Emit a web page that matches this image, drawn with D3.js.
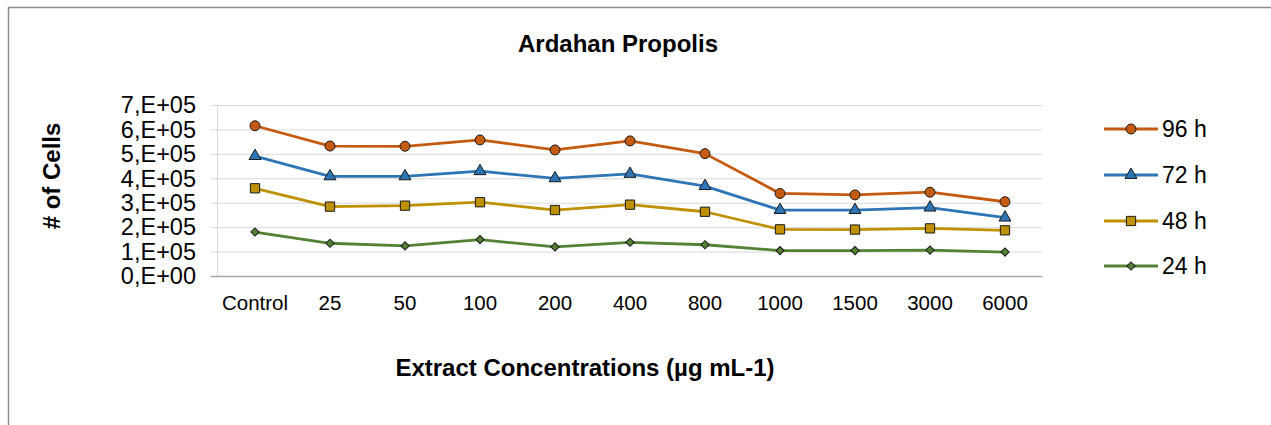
<!DOCTYPE html>
<html>
<head>
<meta charset="utf-8">
<script src="https://cdn.jsdelivr.net/npm/d3@7"></script>
<style>
	body { margin: 0; background: #fff; }
	svg { display: block; font-family: "Liberation Sans", Arial, sans-serif; }
</style>
</head>
<body>
<svg id="chart" width="1271" height="425"></svg>
<script>
// categories and values
const categories = ["Control", "25", "50", "100", "200", "400", "800", "1000", "1500", "3000", "6000"];
const yTicks = [0, 1e5, 2e5, 3e5, 4e5, 5e5, 6e5, 7e5];
const h96 = [615000, 532000, 531000, 557000, 516000, 553000, 501000, 338000, 332000, 343000, 304000];
const h72 = [491000, 408000, 408000, 429000, 400000, 418000, 368000, 270000, 270000, 280000, 239000];
const h48 = [359000, 284000, 288000, 302000, 270000, 292000, 263000, 191000, 190000, 195000, 187000];
const h24 = [180000, 134000, 123000, 149000, 119000, 138000, 128000, 104000, 104000, 106000, 98000];
const seriesNames = ["96 h", "72 h", "48 h", "24 h"];

const series = [
	{ name: seriesNames[0], values: h96, color: "#C55A11", symbol: d3.symbolCircle, size: 78, rot: 0 },
	{ name: seriesNames[1], values: h72, color: "#2E75B6", symbol: d3.symbolTriangle, size: 62, rot: 0 },
	{ name: seriesNames[2], values: h48, color: "#BF9000", symbol: d3.symbolSquare, size: 86, rot: 0 },
	{ name: seriesNames[3], values: h24, color: "#548235", symbol: d3.symbolSquare, size: 34, rot: 45 }
];

const svg = d3.select("#chart");
const margin = { left: 217.5, right: 1042.5, top: 105, bottom: 276 };

// outer frame (top and left edges visible)
svg.append("path")
	.attr("d", "M8.5,425 L8.5,7.5 L1271,7.5")
	.attr("fill", "none")
	.attr("stroke", "#8c8c8c")
	.attr("stroke-width", 1.5);

const x = d3.scaleBand()
	.domain(categories)
	.range([margin.left, margin.right]);

const y = d3.scaleLinear()
	.domain([0, 7e5])
	.range([margin.bottom, margin.top]);

// gridlines
svg.append("g")
	.selectAll("line")
	.data(yTicks.filter(d => d > 0))
	.join("line")
	.attr("x1", margin.left - 7)
	.attr("x2", margin.right)
	.attr("y1", d => y(d) + 0.5)
	.attr("y2", d => y(d) + 0.5)
	.attr("stroke", "#d9d9d9")
	.attr("stroke-width", 1);

// y axis line
svg.append("line")
	.attr("x1", margin.left).attr("x2", margin.left)
	.attr("y1", margin.top).attr("y2", margin.bottom)
	.attr("stroke", "#d9d9d9");

// x axis line
svg.append("line")
	.attr("x1", margin.left - 7).attr("x2", margin.right)
	.attr("y1", margin.bottom + 0.5).attr("y2", margin.bottom + 0.5)
	.attr("stroke", "#a6a6a6")
	.attr("stroke-width", 1.5);

// y tick labels
const fmt = d => {
	if (d === 0) return "0,E+00";
	const e = Math.floor(Math.log10(d));
	return Math.round(d / Math.pow(10, e)) + ",E+" + String(e).padStart(2, "0");
};
svg.append("g")
	.selectAll("text")
	.data(yTicks)
	.join("text")
	.attr("x", 196)
	.attr("y", d => y(d))
	.attr("dy", "0.35em")
	.attr("text-anchor", "end")
	.attr("font-size", 23.5)
	.attr("fill", "#000")
	.text(fmt);

// x tick labels
svg.append("g")
	.selectAll("text")
	.data(categories)
	.join("text")
	.attr("x", d => x(d) + x.bandwidth() / 2)
	.attr("y", 303)
	.attr("dy", "0.35em")
	.attr("text-anchor", "middle")
	.attr("font-size", 20.5)
	.attr("fill", "#000")
	.text(d => d);

// lines and markers
const line = d3.line()
	.x((d, i) => x(categories[i]) + x.bandwidth() / 2)
	.y(d => y(d));

series.forEach(s => {
	svg.append("path")
		.datum(s.values)
		.attr("d", line)
		.attr("fill", "none")
		.attr("stroke", s.color)
		.attr("stroke-width", 2.8)
		.attr("stroke-linejoin", "round");

	svg.append("g")
		.selectAll("path")
		.data(s.values)
		.join("path")
		.attr("transform", (d, i) => `translate(${x(categories[i]) + x.bandwidth() / 2},${y(d)}) rotate(${s.rot})`)
		.attr("d", d3.symbol().type(s.symbol).size(s.size))
		.attr("fill", s.color)
		.attr("stroke", "#1a1a1a")
		.attr("stroke-width", 1);
});

// legend
const legendY = [129, 175, 221, 266];
const legend = svg.append("g");
series.forEach((s, i) => {
	const g = legend.append("g").attr("transform", `translate(0,${legendY[i]})`);
	g.append("line")
		.attr("x1", 1104).attr("x2", 1158)
		.attr("stroke", s.color)
		.attr("stroke-width", 2.8);
	g.append("path")
		.attr("transform", `translate(1131,0) rotate(${s.rot})`)
		.attr("d", d3.symbol().type(s.symbol).size(s.size))
		.attr("fill", s.color)
		.attr("stroke", "#1a1a1a")
		.attr("stroke-width", 1);
	g.append("text")
		.attr("x", 1162)
		.attr("dy", "0.35em")
		.attr("font-size", 23)
		.attr("fill", "#000")
		.text(s.name);
});

// titles
svg.append("text")
	.attr("x", 618)
	.attr("y", 44)
	.attr("dy", "0.35em")
	.attr("text-anchor", "middle")
	.attr("font-size", 24)
	.attr("font-weight", "bold")
	.text("Ardahan Propolis");

svg.append("text")
	.attr("x", 585)
	.attr("y", 368)
	.attr("dy", "0.35em")
	.attr("text-anchor", "middle")
	.attr("font-size", 24)
	.attr("font-weight", "bold")
	.text("Extract Concentrations (µg mL-1)");

svg.append("text")
	.attr("transform", "translate(52,176) rotate(-90)")
	.attr("dy", "0.35em")
	.attr("text-anchor", "middle")
	.attr("font-size", 24)
	.attr("font-weight", "bold")
	.text("# of Cells");
</script>
</body>
</html>
